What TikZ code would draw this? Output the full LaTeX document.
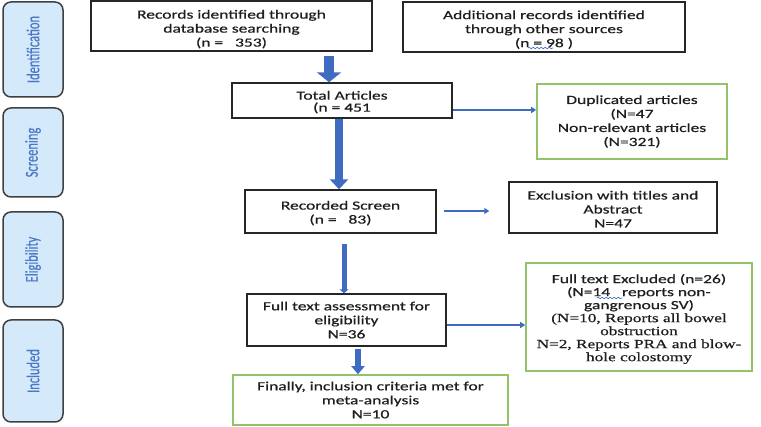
\documentclass[tikz,border=0pt]{standalone}
\usepackage{fontspec}
\setmainfont[FakeStretch=1.4,FakeBold=0.6]{Carlito}
\newfontfamily\lblfont[FakeBold=0.3]{Carlito}
\newfontfamily\serffont[FakeStretch=1.38,FakeBold=0.6]{Liberation Serif}
\usetikzlibrary{arrows.meta,decorations.pathmorphing}
\definecolor{arrowblue}{HTML}{3F6CC0}
\definecolor{boxgreen}{HTML}{92C36A}
\definecolor{lblfill}{HTML}{D4E9FA}
\definecolor{lbltext}{HTML}{4A78C6}
\definecolor{txt}{HTML}{1E1E1E}
\begin{document}
\begin{tikzpicture}[x=1pt,y=-1pt,
  every node/.style={font=\fontsize{12.5}{14}\selectfont, text=txt, inner sep=0pt},
  plainbox/.style={draw=black!85, line width=1.4pt, align=center},
  greenbox/.style={draw=boxgreen, line width=1.6pt, align=center},
  stagebox/.style={draw=black!75, fill=lblfill, line width=1.5pt, rounded corners=8pt, minimum width=60pt},
  stagetext/.style={rotate=90, text=lbltext, font=\lblfont\fontsize{12.5}{14}\selectfont},
  arrowA/.style={draw=arrowblue, line width=10pt, -{Triangle[width=24pt,length=10pt]}},
  arrowB/.style={draw=arrowblue, line width=8pt, -{Triangle[width=18pt,length=10pt]}},
  arrowC/.style={draw=arrowblue, line width=5pt, -{Triangle[width=9pt,length=4pt]}},
  arrowD/.style={draw=arrowblue, line width=6pt, -{Triangle[width=13pt,length=8pt]}},
  sidearrow/.style={draw=arrowblue, line width=2.5pt, -{Triangle[width=6pt,length=5pt]}},
  squiggle/.style={draw=arrowblue, line width=0.6pt, decorate, decoration={snake, amplitude=0.8pt, segment length=4pt}}
]
\useasboundingbox (0,0) rectangle (761,427);

% stage labels
\node[stagebox, minimum height=95pt] (sId) at (33,49.5) {};
\node[stagetext] (tId) at (sId.center) {\scalebox{1}[1.45]{Identification}};
\node[stagebox, minimum height=89pt] (sSc) at (33,152.5) {};
\node[stagetext] (tSc) at (sSc.center) {\scalebox{1}[1.45]{Screening}};
\node[stagebox, minimum height=95pt] (sEl) at (33,259.5) {};
\node[stagetext] (tEl) at (sEl.center) {\scalebox{1}[1.45]{Eligibility}};
\node[stagebox, minimum height=102pt] (sIn) at (33,371) {};
\node[stagetext] (tIn) at (sIn.center) {\scalebox{1}[1.45]{Included}};

% boxes
\node[plainbox, minimum width=281pt, minimum height=50pt] (box1) at (231.5,26)
  {\rule{0pt}{15pt}Records identified through\\database searching\\(n =\ \ \ 353)};
\node[plainbox, minimum width=282pt, minimum height=50pt] (box2) at (544,27)
  {\rule{0pt}{14pt}Additional records identified\\through other sources\\(n = 98 )};
\node[plainbox, minimum width=220pt, minimum height=35pt, font=\fontsize{12.5}{12}\selectfont] (total) at (342,100.5)
  {\rule{0pt}{12pt}Total Articles\\(n = 451};
\node[greenbox, minimum width=190pt, minimum height=75pt] (dup) at (632,121.5)
  {Duplicated articles\\(N=47\\Non-relevant articles\\(N=321)};
\node[plainbox, minimum width=191pt, minimum height=43pt] (rec) at (340.5,211.5)
  {\rule{0pt}{12pt}Recorded Screen\\(n =\ \ \ 83)};
\node[plainbox, minimum width=208pt, minimum height=51pt] (excl) at (613,207.5)
  {\rule{0pt}{12pt}Exclusion with titles and\\Abstract\\N=47};
\node[plainbox, minimum width=199pt, minimum height=52pt] (full) at (346.5,320)
  {Full text assessment for\\eligibility\\N=36};
\node[greenbox, minimum width=226pt, minimum height=108pt, font=\fontsize{12.5}{13}\selectfont] (fexcl) at (639,317)
  {\rule{0pt}{13pt}Full text Excluded (n=26)\\(N=14\ \ \ reports non-\\gangrenous SV)\\{\serffont (N=10, Reports all bowel}\\{\serffont obstruction}\\{\serffont N=2, Reports PRA and blow-}\\{\serffont hole colostomy}};
\node[greenbox, minimum width=275pt, minimum height=50pt] (final) at (370.5,400)
  {Finally, inclusion criteria met for\\meta-analysis\\N=10};

% arrow positions
\coordinate (ax1) at (329,0);
\coordinate (ax2) at (339,0);
\coordinate (ax3) at (344,0);
\coordinate (ax4) at (358,0);
\coordinate (ay1) at (0,110);
\coordinate (ay2) at (0,211);
\coordinate (ay3) at (0,325);

\draw[arrowA] ([yshift=-4pt]box1.south -| ax1) -- (total.north -| ax1);
\draw[arrowB] (total.south -| ax2) -- (rec.north -| ax2);
\draw[arrowC] ([yshift=-10pt]rec.south -| ax3) -- (full.north -| ax3);
\draw[arrowD] ([yshift=-2pt]full.south -| ax4) -- (final.north -| ax4);
\draw[sidearrow] (total.east |- ay1) -- (dup.west |- ay1);
\draw[sidearrow] ([xshift=7pt]rec.east |- ay2) -- ([xshift=-19pt]excl.west |- ay2);
\draw[sidearrow] (full.east |- ay3) -- (fexcl.west |- ay3);

% spell-check squiggles
\draw[squiggle] (528,48) -- (553,48);
\draw[squiggle] (597,298) -- (622,298);
\end{tikzpicture}
\end{document}
